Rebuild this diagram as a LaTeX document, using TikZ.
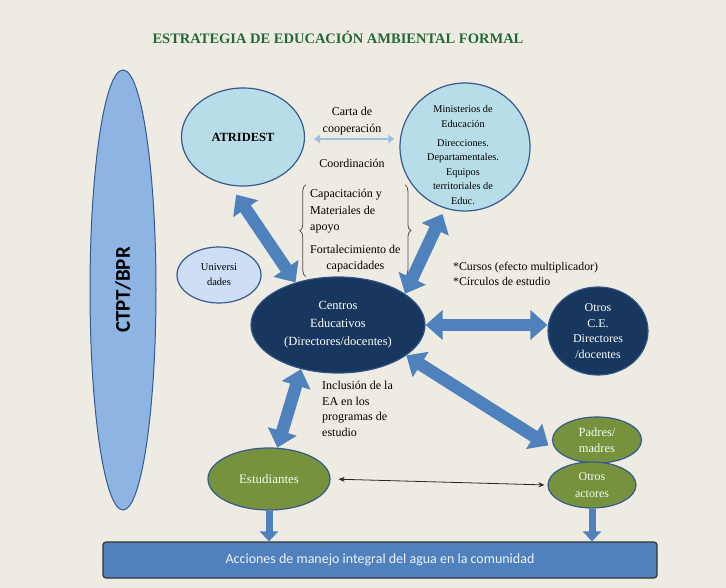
\documentclass[tikz,border=0pt]{standalone}
\usepackage{fontspec}
\setmainfont{Liberation Serif}
\newfontfamily\carlito{Carlito}
\usepackage{xcolor}
\usetikzlibrary{positioning, arrows.meta, shapes.geometric, fit, decorations.pathreplacing}
\definecolor{paper}{RGB}{238,236,226}
\definecolor{titlegreen}{RGB}{35,105,55}
\definecolor{edgeblue}{RGB}{55,90,145}
\definecolor{skyfill}{RGB}{183,222,232}
\definecolor{ctptfill}{RGB}{141,180,226}
\definecolor{unifill}{RGB}{205,222,245}
\definecolor{navy}{RGB}{23,55,94}
\definecolor{leafgreen}{RGB}{118,146,60}
\definecolor{arrowblue}{RGB}{79,129,189}
\definecolor{lightarrow}{RGB}{155,192,225}
\tikzset{
    bubble/.style={ellipse, draw=edgeblue, line width=1.2pt, inner sep=0pt, align=center},
    sky/.style={bubble, fill=skyfill},
    hub/.style={bubble, fill=navy, draw=edgeblue!80!navy, text=white},
    people/.style={bubble, fill=leafgreen, text=white!95!leafgreen},
    remark/.style={align=center, inner sep=0pt, font=\fontsize{12}{16}\selectfont},
    fatarrow/.style={arrowblue, line width=12.5pt, {Triangle[width=29pt,length=17pt]}-{Triangle[width=29pt,length=17pt]}},
    downarrow/.style={arrowblue, line width=7pt, -{Triangle[width=18pt,length=10pt]}},
    thinarrow/.style={black!85, line width=0.8pt, {Stealth[length=6pt,width=5pt]}-{Stealth[length=6pt,width=5pt]}}
}
\begin{document}
\begin{tikzpicture}[x=1pt, y=-1pt]
    \fill[paper] (0,0) rectangle (726,588);
    \useasboundingbox (0,0) rectangle (726,588);

    % Title
    \node[font=\bfseries\fontsize{14.5}{16}\selectfont, text=titlegreen] (title) at (338,37) {ESTRATEGIA\ DE\ EDUCACIÓN\ AMBIENTAL\ FORMAL};

    % Side column
    \node[ellipse, draw=edgeblue, fill=ctptfill, line width=1pt, rotate=90, minimum width=440pt, minimum height=66pt,
          font=\carlito\bfseries\fontsize{21}{24}\selectfont] (ctpt) at (123,290) {CTPT/BPR};

    % Institutions
    \node[sky, minimum width=123pt, minimum height=98pt, font=\bfseries\fontsize{12.5}{14}\selectfont] (atridest) at (243,137) {ATRIDEST};
    \node[sky, minimum width=130pt, minimum height=128pt] (minis) at (465,147) {};
    \node[remark, font=\fontsize{10.3}{14.5}\selectfont] (minitxt) at (463,155) {Ministerios de\\Educación\\[5pt]Direcciones.\\Departamentales.\\Equipos\\territoriales de\\Educ.};
    \node[bubble, fill=unifill, minimum width=84pt, minimum height=56pt, font=\fontsize{10.5}{15}\selectfont] (univ) at (219,275) {Universi\\dades};

    % Schools
    \node[hub, minimum width=174pt, minimum height=96pt, font=\fontsize{12.5}{18}\selectfont] (centros) at (338,325) {Centros\\Educativos\\(Directores/docentes)};
    \node[hub, minimum width=100pt, minimum height=88pt, font=\fontsize{12}{15.5}\selectfont] (otrosce) at (598,331) {Otros\\C.E.\\Directores\\/docentes};

    % Actors
    \node[people, minimum width=122pt, minimum height=62pt, font=\fontsize{13}{15}\selectfont] (estud) at (269,479) {Estudiantes};
    \node[people, minimum width=89pt, minimum height=46pt, font=\fontsize{12.5}{16}\selectfont] (padres) at (597,440) {Padres/\\madres};
    \node[people, minimum width=88pt, minimum height=46pt, font=\fontsize{12}{17}\selectfont] (otrosact) at (592,485) {Otros\\actores};

    % Bottom bar
    \node[rounded corners=3pt, draw=black!80, line width=1.2pt, fill=arrowblue, minimum width=554pt, minimum height=36pt,
          text=white!90!arrowblue, font=\carlito\fontsize{14}{16}\selectfont] (acciones) at (380,560) {Acciones de manejo integral del agua en la comunidad};

    % Labels
    \node[remark, font=\fontsize{12}{17}\selectfont] (carta) at (352,121) {Carta de\\cooperación};
    \node[remark] (coord) at (352,163) {Coordinación};
    \node[remark, align=left, anchor=north west, font=\fontsize{12}{16.5}\selectfont] (capac) at (310,189) {Capacitación y\\Materiales de\\apoyo};
    \node[remark, anchor=north west] (fortal) at (310,245) {Fortalecimiento de\\capacidades};
    \node[fit=(capac)(fortal), inner sep=4pt] (capbox) {};
    \draw[decorate, decoration={brace, amplitude=6pt}, black!70, thick] (capbox.south west) -- (capbox.north west);
    \draw[decorate, decoration={brace, amplitude=6pt}, black!70, thick] (capbox.north east) -- (capbox.south east);
    \node[remark, align=left, anchor=west, font=\fontsize{11.8}{15.5}\selectfont] (cursos) at (453,274) {*Cursos (efecto multiplicador)\\*Círculos de estudio};
    \node[remark, align=left, anchor=north west, font=\fontsize{12}{15.5}\selectfont] (inclus) at (322,381) {Inclusión de la\\EA en los\\programas de\\estudio};

    % Connectors
    \draw[lightarrow, line width=1.8pt, {Triangle[length=6pt,width=8pt]}-{Triangle[length=6pt,width=8pt]}, shorten <=9pt, shorten >=5pt]
        (atridest.east |- 0,139) -- (minis.west |- 0,139);
    \draw[fatarrow, shorten <=11pt] (atridest.-105) -- (centros.135);
    \draw[fatarrow, shorten <=6pt] (minis.-108) -- (centros.25);
    \draw[fatarrow] (centros.east) -- (centros.east -| otrosce.west);
    \draw[fatarrow] (centros.-130) -- (estud.75);
    \draw[fatarrow, shorten >=10pt] (centros.-24) -- (padres.-165);
    \draw[thinarrow, shorten <=8pt, shorten >=3pt] (estud.east) -- (otrosact.west);
    \draw[downarrow] (estud.south) -- (estud.south |- acciones.north);
    \draw[downarrow] (otrosact.south) -- (otrosact.south |- acciones.north);
\end{tikzpicture}
\end{document}
